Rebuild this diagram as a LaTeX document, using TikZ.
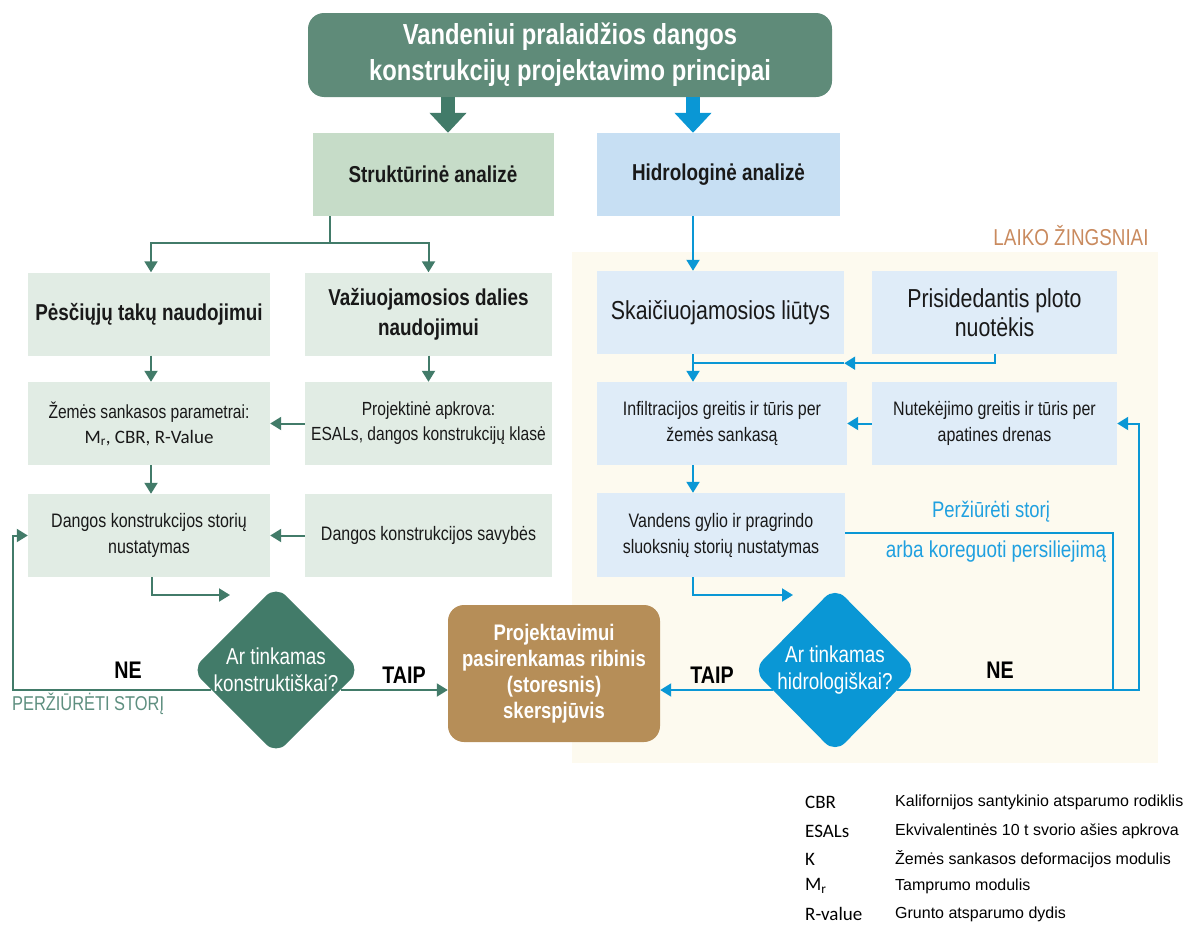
\documentclass[tikz,border=0pt]{standalone}
\usepackage{fontspec}
\usepackage{tikz}
\usetikzlibrary{shapes.geometric, arrows.meta}
\setmainfont{Liberation Sans}
\newfontfamily\narrow[FakeStretch=0.82]{Liberation Sans}
\newfontfamily\legabbr{Carlito}
\definecolor{titlegreen}{HTML}{5F8B79}
\definecolor{dgreen}{HTML}{427B69}
\definecolor{midgreen}{HTML}{C6DCC8}
\definecolor{lgreen}{HTML}{E1ECE4}
\definecolor{midblue}{HTML}{C7DFF3}
\definecolor{lblue}{HTML}{DFECF8}
\definecolor{hblue}{HTML}{0A97D5}
\definecolor{txtblue}{HTML}{1FA0E0}
\definecolor{brown}{HTML}{B68E58}
\definecolor{cream}{HTML}{FDFAEF}
\definecolor{timeorange}{HTML}{C98A5E}
\newcommand{\fs}[2]{\fontsize{#1}{#2}\selectfont}
\newcommand{\modMr}{M\textsubscript{r}}

\begin{document}
\begin{tikzpicture}[x=1pt, y=-1pt]
        \tikzstyle{box} = [rectangle, minimum height=83pt, align=center, inner sep=2pt, text=black!90, font=\narrow]
        \tikzstyle{gbox} = [box, fill=lgreen]
        \tikzstyle{bbox} = [box, fill=lblue]
        \tikzstyle{gline} = [draw=dgreen, line width=2pt]
        \tikzstyle{bline} = [draw=hblue, line width=2pt]
        \tikzstyle{garrow} = [gline, -{Triangle[length=11pt, width=13pt]}]
        \tikzstyle{barrow} = [bline, -{Triangle[length=11pt, width=13pt]}]
        \tikzstyle{decide} = [diamond, aspect=1, minimum width=164pt, minimum height=166pt, inner sep=0pt, rounded corners=14pt, align=center, text=white, font=\narrow\fs{23}{27}]
        \tikzstyle{yesno} = [font=\narrow\bfseries\fs{24}{26}, text=black]
        \useasboundingbox (0,0) rectangle (1188,926);
        % laiko zingsniai
        \fill[cream] (572,252) rectangle (1158,763);
        \node[font=\narrow\fs{23}{26}, text=timeorange] (laiko) at (1071,236) {LAIKO ŽINGSNIAI};
        % title and analyses
        \node[rectangle, rounded corners=16pt, fill=titlegreen, minimum width=524pt, minimum height=84pt, align=center, text=white, font=\narrow\bfseries\fs{29}{36}] (title) at (570,55) {Vandeniui pralaidžios dangos\\konstrukcijų projektavimo principai};
        \node[box, fill=midgreen, minimum width=241pt, font=\narrow\bfseries\fs{23}{26}] (strukt) at (433,174.5) {Struktūrinė analizė};
        \node[box, fill=midblue, minimum width=243pt, font=\narrow\bfseries\fs{23}{26}] (hidro) at (718.5,174.5) {Hidrologinė analizė};
        % structural side
        \node[gbox, minimum width=242pt, font=\narrow\bfseries\fs{23}{30}] (pesc) at (149,314) {Pėsčiųjų takų naudojimui};
        \node[gbox, minimum width=247pt, font=\narrow\bfseries\fs{23}{30}] (vaz) at (428.5,314) {Važiuojamosios dalies\\naudojimui};
        \node[gbox, minimum width=242pt, font=\narrow\fs{19}{25}] (zemes) at (149,423.5) {Žemės sankasos parametrai:\\{\legabbr\fs{19}{25}\modMr, CBR, R-Value}};
        \node[gbox, minimum width=247pt, font=\narrow\fs{19}{25}] (projekt) at (428.5,423.5) {Projektinė apkrova:\\ESALs, dangos konstrukcijų klasė};
        \node[gbox, minimum width=242pt, font=\narrow\fs{19.5}{26}] (storiu) at (149,535.5) {Dangos konstrukcijos storių\\nustatymas};
        \node[gbox, minimum width=247pt, font=\narrow\fs{19.5}{26}] (savyb) at (428.5,535.5) {Dangos konstrukcijos savybės};
        % hydrological side
        \node[bbox, minimum width=247pt, font=\narrow\fs{26}{29}] (skaic) at (720.5,312.5) {Skaičiuojamosios liūtys};
        \node[bbox, minimum width=245pt, font=\narrow\fs{26}{29}] (prisid) at (994.5,312.5) {Prisidedantis ploto\\nuotėkis};
        \node[bbox, minimum width=250pt, font=\narrow\fs{19.5}{26}] (infil) at (722,423.5) {Infiltracijos greitis ir tūris per\\žemės sankasą};
        \node[bbox, minimum width=245pt, font=\narrow\fs{19.5}{26}] (nutek) at (994.5,423.5) {Nutekėjimo greitis ir tūris per\\apatines drenas};
        \node[bbox, minimum width=248pt, minimum height=84pt, font=\narrow\fs{19.5}{26}] (vandens) at (721,535) {Vandens gylio ir pragrindo\\sluoksnių storių nustatymas};
        % checks and result
        \coordinate (bcol) at (693,0);
        \coordinate (yline) at (0,690);
        \coordinate (gin) at (230,595);
        \coordinate (bin) at (793,595);
        \coordinate (bjoin) at (1113,690);
        \draw[garrow] ([xshift=3pt]storiu.south) |- (gin);
        \draw[barrow] (vandens.south -| bcol) |- (bin);
        \node[decide, fill=dgreen] (gd) at (276,670) {Ar tinkamas\\konstruktiškai?};
        \node[decide, fill=hblue] (bd) at (835,670) {Ar tinkamas\\hidrologiškai?};
        \node[rectangle, rounded corners=16pt, fill=brown, minimum width=212pt, minimum height=137pt, align=center, text=white, font=\narrow\bfseries\fs{22.5}{26}] (ribin) at (554,673.5) {Projektavimui\\pasirenkamas ribinis\\(storesnis)\\skerspjūvis};
        % connectors
        \draw[line width=14pt, draw=dgreen, -{Triangle[length=20pt, width=36pt]}] ([xshift=-122pt]title.south) -- ([xshift=15pt]strukt.north);
        \draw[line width=14pt, draw=hblue, -{Triangle[length=20pt, width=36pt]}] ([xshift=123pt]title.south) -- ([xshift=-25.5pt]hidro.north);
        \draw[gline] ([xshift=18pt]strukt.south west) -- ++(0,27) coordinate (gsplit);
        \draw[garrow] (gsplit) -| ([xshift=2pt]pesc.north);
        \draw[garrow] (gsplit) -| (vaz.north);
        \draw[garrow] ([xshift=2pt]pesc.south) -- ([xshift=2pt]zemes.north);
        \draw[garrow] (vaz.south) -- (projekt.north);
        \draw[garrow] ([xshift=2pt]zemes.south) -- ([xshift=2pt]storiu.north);
        \draw[garrow] (projekt.west) -- (zemes.east);
        \draw[garrow] (savyb.west) -- (storiu.west -| zemes.east);
        \draw[garrow] ([shift={(20pt,-20pt)}]gd.west) -| ([xshift=-15pt]storiu.west) -- (storiu.west);
        \draw[garrow] ([shift={(-20pt,-20pt)}]gd.east) -- (ribin.west |- yline);
        \draw[barrow] (hidro.south -| bcol) -- (skaic.north -| bcol);
        \draw[barrow] (prisid.south) |- ([yshift=-9pt]skaic.south east);
        \draw[bline] ([yshift=-9pt]skaic.south east) -- ([yshift=-9pt]skaic.south -| bcol);
        \draw[barrow] (skaic.south -| bcol) -- (infil.north -| bcol);
        \draw[barrow] (nutek.west) -- (infil.east);
        \draw[barrow] (infil.south -| bcol) -- (vandens.north -| bcol);
        \draw[bline] ([yshift=2pt]vandens.east) -| (bjoin);
        \draw[barrow] ([shift={(20pt,-20pt)}]bd.west) -- (ribin.east |- yline);
        \draw[barrow] ([shift={(-20pt,-20pt)}]bd.east) -| ([xshift=22pt]nutek.east) -- (nutek.east);
        % connector labels
        \node[yesno] (gno) at (128,670) {NE};
        \node[yesno] (gyes) at (404,675) {TAIP};
        \node[yesno] (byes) at (712,675) {TAIP};
        \node[yesno] (bno) at (1000,670) {NE};
        \node[anchor=west, inner sep=0pt, text=dgreen!85, font=\narrow\fs{20}{22}] (gredo) at (12,704) {PERŽIŪRĖTI STORĮ};
        \node[text=txtblue, font=\narrow\fs{22.5}{25}] (bredo1) at (991,512) {Peržiūrėti storį};
        \node[text=txtblue, font=\narrow\fs{23}{25}] (bredo2) at (996,552) {arba koreguoti persiliejimą};
        % legend
        \foreach \abbr/\defn/\ypos [count=\n] in {CBR/Kalifornijos santykinio atsparumo rodiklis/802, ESALs/Ekvivalentinės 10 t svorio ašies apkrova/831, K/Žemės sankasos deformacijos modulis/859, \modMr/Tamprumo modulis/886, R-value/Grunto atsparumo dydis/914} {
          \node[anchor=west, inner sep=0pt, font=\legabbr\fs{19}{20}] (abbr\n) at (805,\ypos) {\abbr};
          \node[anchor=west, inner sep=0pt, font=\fs{16}{18}] (defn\n) at (895,\ypos) {\defn};
        }
      \end{tikzpicture}
\end{document}
